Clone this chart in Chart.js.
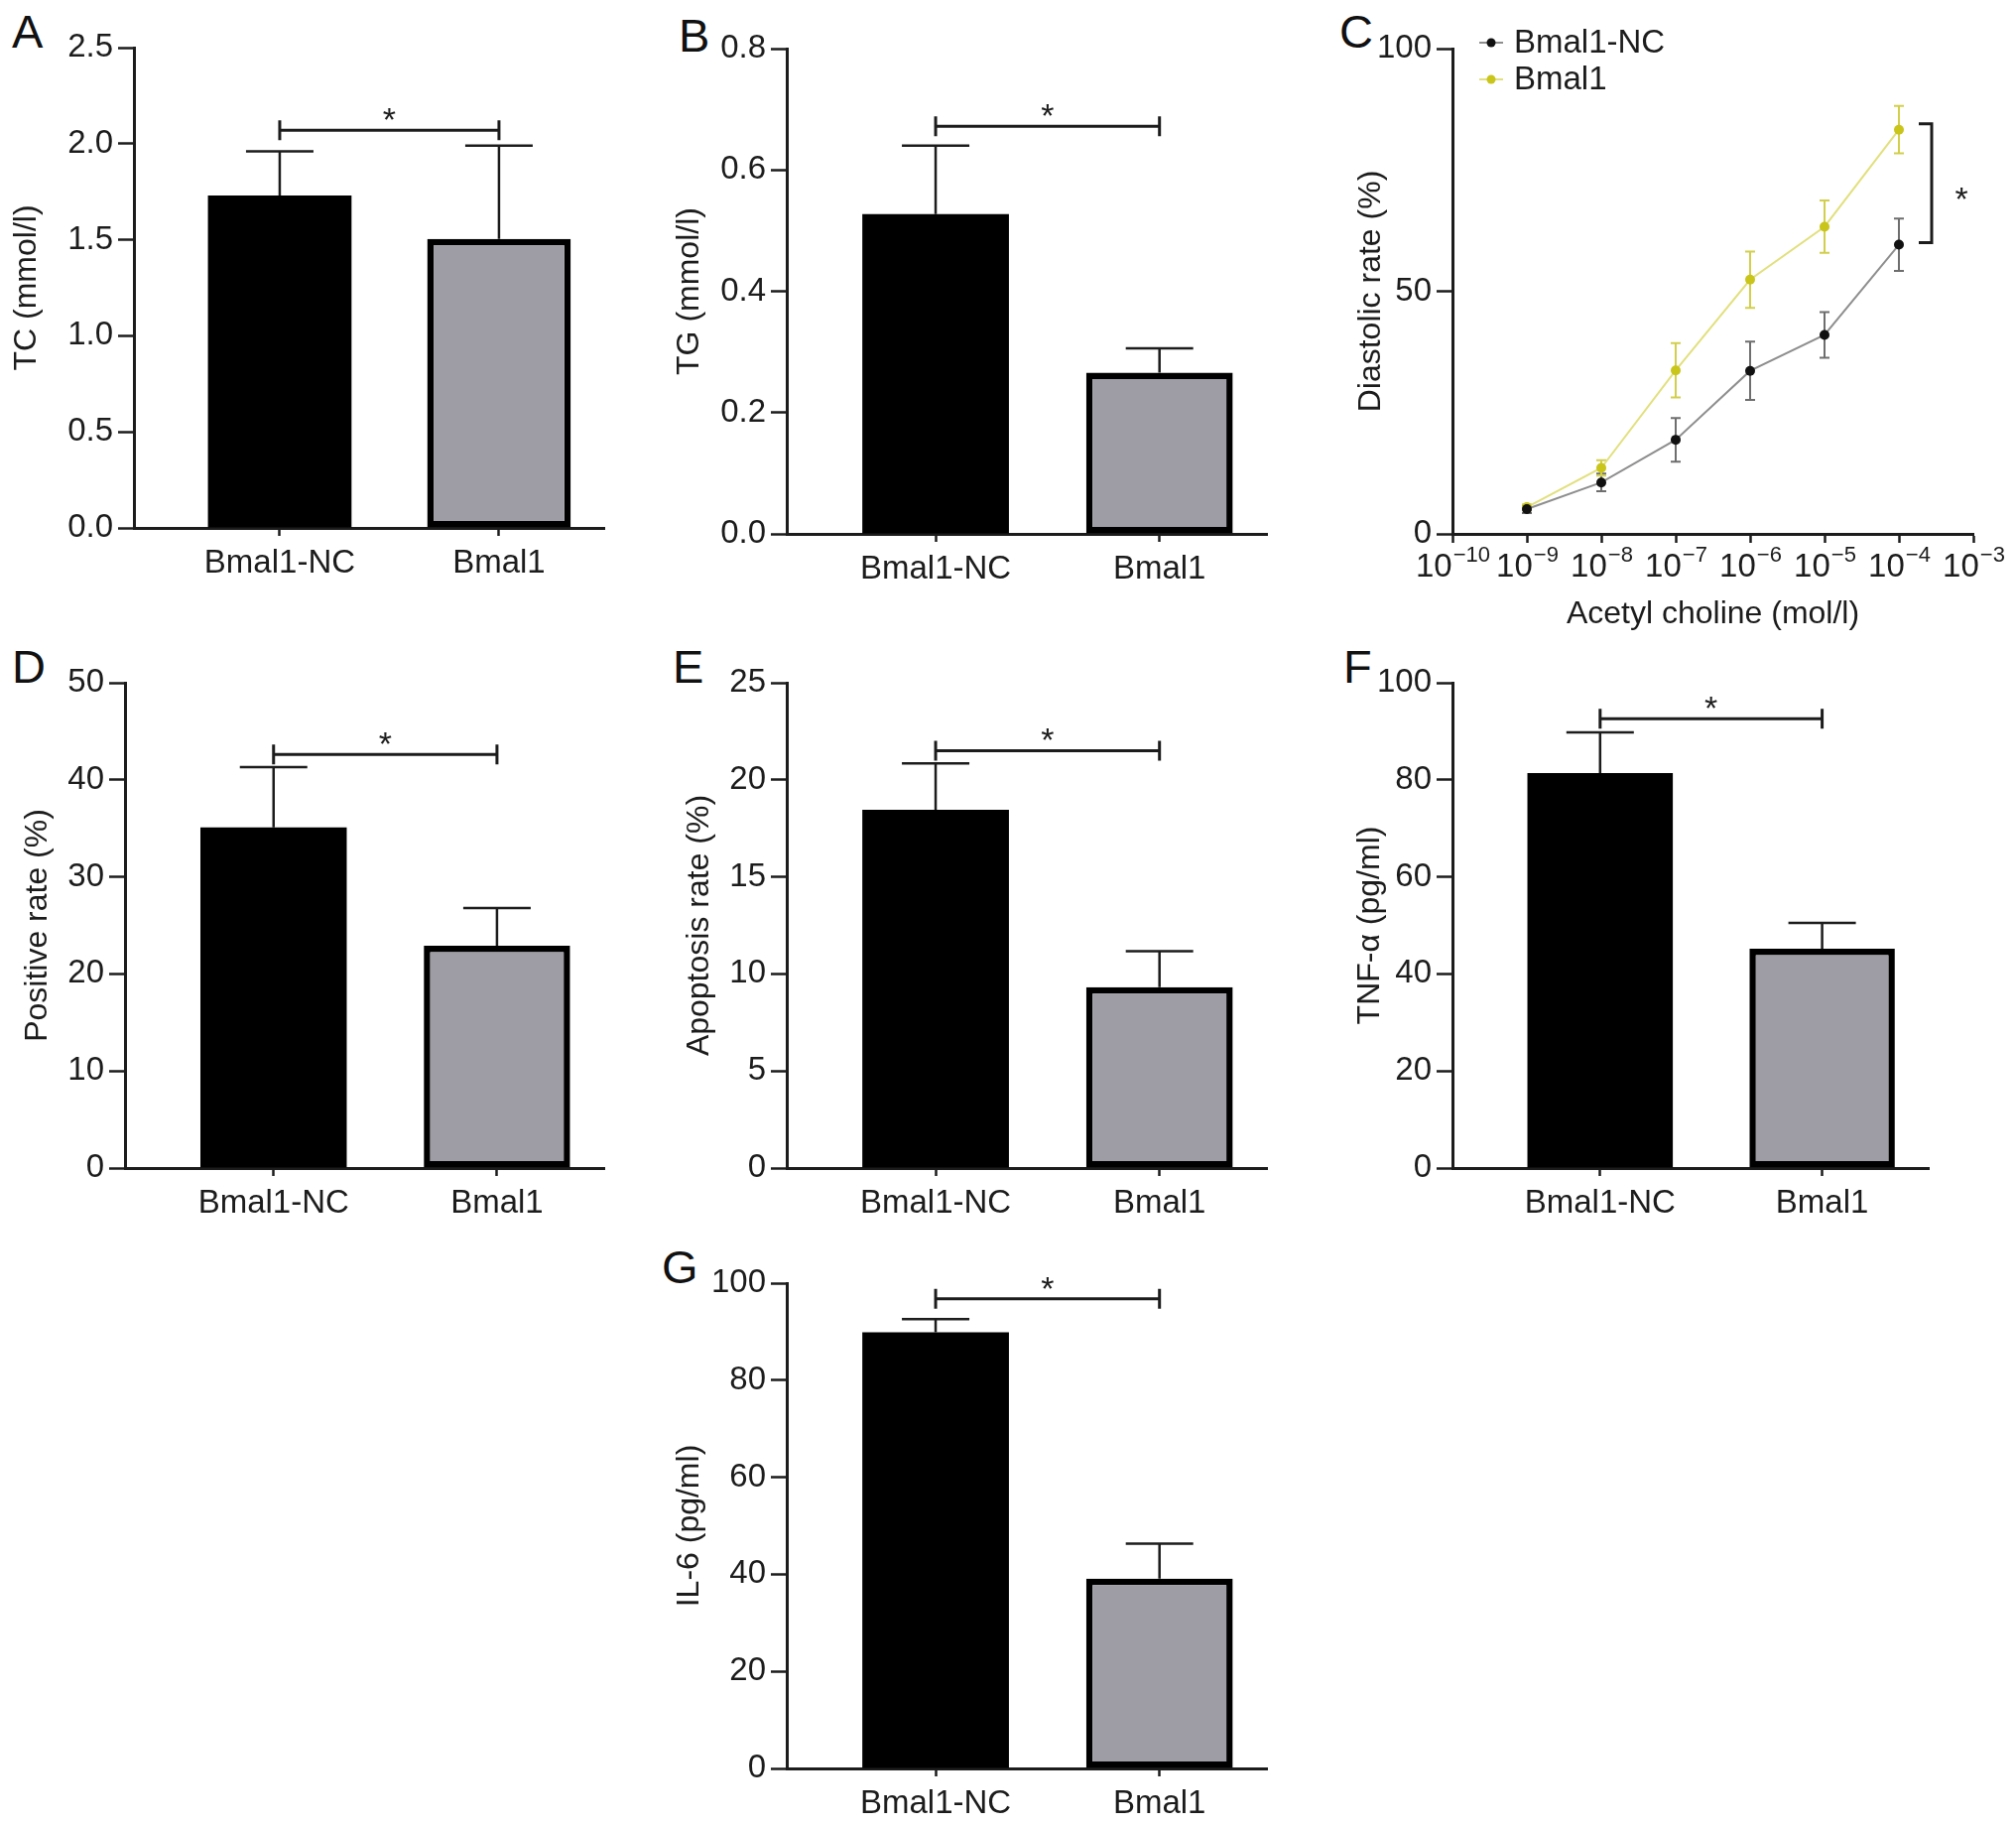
<!DOCTYPE html>
<html>
<head>
<meta charset="utf-8">
<script src="https://cdn.jsdelivr.net/npm/chart.js@4.4.1/dist/chart.umd.min.js"></script>
<style>
    html, body { margin: 0; padding: 0; background: #fff; }
    #fig { position: relative; width: 2032px; height: 1838px; overflow: hidden; font-family: "Liberation Sans", Arial, sans-serif; }
    #fig canvas { position: absolute; }
    .tag { position: absolute; font-size: 47px; line-height: 1; color: #111; }
</style>
</head>
<body>
<div id="fig">
    <div class="tag" style="left:12px;top:8px">A</div>
    <div class="tag" style="left:684px;top:12px">B</div>
    <div class="tag" style="left:1350px;top:8px">C</div>
    <div class="tag" style="left:12px;top:648px">D</div>
    <div class="tag" style="left:678px;top:648px">E</div>
    <div class="tag" style="left:1354px;top:648px">F</div>
    <div class="tag" style="left:667px;top:1253px">G</div>
    <canvas id="chartA"></canvas>
    <canvas id="chartB"></canvas>
    <canvas id="chartC"></canvas>
    <canvas id="chartD"></canvas>
    <canvas id="chartE"></canvas>
    <canvas id="chartF"></canvas>
    <canvas id="chartG"></canvas>
</div>
<script>
// ---- data ----
const groups = ['Bmal1-NC', 'Bmal1'];

const tcMean = [1.73, 1.505];
const tcErr = [0.23, 0.485];
const tgMean = [0.527, 0.266];
const tgErr = [0.113, 0.040];
const posMean = [35.1, 22.9];
const posErr = [6.2, 3.9];
const apoMean = [18.46, 9.32];
const apoErr = [2.38, 1.85];
const tnfMean = [81.4, 45.2];
const tnfErr = [8.4, 5.3];
const il6Mean = [89.9, 39.1];
const il6Err = [2.7, 7.2];

// level of the significance bar in each panel
const sigLevel = { A: 2.07, B: 0.672, D: 42.6, E: 21.5, F: 92.6, G: 96.8 };

// panel C: acetyl choline dose response
const achExp = [-9, -8, -7, -6, -5, -4];
const achAxisExp = [-10, -9, -8, -7, -6, -5, -4, -3];
const ncRate = [5.1, 10.6, 19.4, 33.6, 41.0, 59.6];
const ncRateErr = [0.8, 1.8, 4.5, 6.0, 4.7, 5.4];
const bmRate = [5.5, 13.6, 33.7, 52.4, 63.3, 83.3];
const bmRateErr = [0.6, 1.6, 5.6, 5.8, 5.4, 4.9];

// ---- look ----
const FONT = '"Liberation Sans", Arial, sans-serif';
const FS = 33;
const TITLE_FS = 32;
const INK = '#1c1c1c';
const BAR_GREY = '#9e9da5';
const PAD_TOP = 26;
const X_HEIGHT = 84;

function axisGrid(len) {
    return {
        display: true,
        drawOnChartArea: false,
        drawTicks: true,
        tickLength: len,
        tickWidth: 2.5,
        tickColor: INK,
        offset: false
    };
}

function placeCanvas(id, axisX, top, bottom, right, titleX, xHeight, padRight) {
    const leftW = axisX - titleX + 20;
    const canvas = document.getElementById(id);
    canvas.width = leftW + (right - axisX) + padRight;
    canvas.height = PAD_TOP + (bottom - top) + xHeight;
    canvas.style.left = (axisX - leftW) + 'px';
    canvas.style.top = (top - PAD_TOP) + 'px';
    return { canvas, leftW };
}

const barMarks = {
    id: 'barMarks',
    afterDatasetsDraw(chart, args, opts) {
        const ctx = chart.ctx;
        const x = chart.scales.x;
        const y = chart.scales.y;
        ctx.save();
        ctx.strokeStyle = INK;
        ctx.lineWidth = 2.5;
        opts.mean.forEach((m, i) => {
            const px = x.getPixelForValue(i);
            const yBar = y.getPixelForValue(m);
            const yTop = y.getPixelForValue(m + opts.err[i]);
            ctx.beginPath();
            ctx.moveTo(px, yBar);
            ctx.lineTo(px, yTop);
            ctx.moveTo(px - 34, yTop);
            ctx.lineTo(px + 34, yTop);
            ctx.stroke();
        });
        // significance bracket
        const ys = y.getPixelForValue(opts.sig);
        const x0 = x.getPixelForValue(0);
        const x1 = x.getPixelForValue(1);
        ctx.lineWidth = 3;
        ctx.beginPath();
        ctx.moveTo(x0, ys);
        ctx.lineTo(x1, ys);
        ctx.moveTo(x0, ys - 10);
        ctx.lineTo(x0, ys + 10);
        ctx.moveTo(x1, ys - 10);
        ctx.lineTo(x1, ys + 10);
        ctx.stroke();
        ctx.fillStyle = INK;
        ctx.font = '34px ' + FONT;
        ctx.textAlign = 'center';
        ctx.textBaseline = 'alphabetic';
        ctx.fillText('*', (x0 + x1) / 2, ys + 1);
        ctx.restore();
    }
};

function barPanel(id, mean, err, sig, yMax, yStep, decimals, yTitle, box) {
    const placed = placeCanvas(id, box[0], box[1], box[2], box[3], box[4], X_HEIGHT, 24);
    return new Chart(placed.canvas.getContext('2d'), {
        type: 'bar',
        data: {
            datasets: [{
                data: mean.map((v, i) => ({ x: i, y: v })),
                backgroundColor: ['#000000', BAR_GREY],
                borderColor: ['#000000', '#000000'],
                borderWidth: [0, 6.5],
                borderSkipped: false,
                barPercentage: 0.655,
                categoryPercentage: 1
            }]
        },
        options: {
            responsive: false,
            animation: false,
            devicePixelRatio: 1,
            layout: { padding: { top: PAD_TOP, right: 24, left: 0, bottom: 0 } },
            plugins: {
                legend: { display: false },
                tooltip: { enabled: false },
                barMarks: { mean: mean, err: err, sig: sig }
            },
            scales: {
                x: {
                    type: 'linear',
                    min: -0.665,
                    max: 1.48,
                    offset: false,
                    afterBuildTicks: (scale) => { scale.ticks = [{ value: 0 }, { value: 1 }]; },
                    afterFit: (scale) => { scale.height = X_HEIGHT; },
                    grid: axisGrid(8),
                    border: { display: true, color: INK, width: 3 },
                    ticks: {
                        autoSkip: false,
                        maxRotation: 0,
                        color: INK,
                        padding: 8,
                        font: { family: FONT, size: FS },
                        callback: (v) => groups[v] || ''
                    }
                },
                y: {
                    min: 0,
                    max: yMax,
                    afterFit: (scale) => { scale.width = placed.leftW; },
                    grid: axisGrid(16),
                    border: { display: true, color: INK, width: 3 },
                    ticks: {
                        stepSize: yStep,
                        color: INK,
                        padding: 5,
                        font: { family: FONT, size: FS },
                        callback: (v) => v.toFixed(decimals)
                    },
                    title: {
                        display: true,
                        text: yTitle,
                        color: INK,
                        padding: 0,
                        font: { family: FONT, size: TITLE_FS }
                    }
                }
            }
        },
        plugins: [barMarks]
    });
}

// panel boxes: y-axis x, top, zero line, x-axis end, y-title centre x
barPanel('chartA', tcMean, tcErr, sigLevel.A, 2.5, 0.5, 1, 'TC (mmol/l)', [135, 48, 532, 609, 28]);
barPanel('chartB', tgMean, tgErr, sigLevel.B, 0.8, 0.2, 1, 'TG (mmol/l)', [793, 49, 538, 1277, 696]);
barPanel('chartD', posMean, posErr, sigLevel.D, 50, 10, 0, 'Positive rate (%)', [126, 688, 1177, 609, 39]);
barPanel('chartE', apoMean, apoErr, sigLevel.E, 25, 5, 0, 'Apoptosis rate (%)', [793, 688, 1177, 1277, 706]);
barPanel('chartF', tnfMean, tnfErr, sigLevel.F, 100, 20, 0, 'TNF-\u03b1 (pg/ml)', [1464, 688, 1177, 1944, 1382]);
barPanel('chartG', il6Mean, il6Err, sigLevel.G, 100, 20, 0, 'IL-6 (pg/ml)', [793, 1293, 1782, 1277, 696]);

// ---- panel C ----
const seriesC = [
    { label: 'Bmal1-NC', mean: ncRate, err: ncRateErr, line: '#8e8e8e', dot: '#111111', bar: '#6e6e6e' },
    { label: 'Bmal1', mean: bmRate, err: bmRateErr, line: '#e2e07e', dot: '#c9c51b', bar: '#d2cf4c' }
];

const doseMarks = {
    id: 'doseMarks',
    beforeDatasetsDraw(chart) {
        const ctx = chart.ctx;
        const x = chart.scales.x;
        const y = chart.scales.y;
        ctx.save();
        ctx.lineWidth = 2;
        seriesC.forEach((s) => {
            ctx.strokeStyle = s.bar;
            achExp.forEach((e, i) => {
                const px = x.getPixelForValue(Math.pow(10, e));
                const hi = y.getPixelForValue(s.mean[i] + s.err[i]);
                const lo = y.getPixelForValue(s.mean[i] - s.err[i]);
                ctx.beginPath();
                ctx.moveTo(px, lo);
                ctx.lineTo(px, hi);
                ctx.moveTo(px - 5, lo);
                ctx.lineTo(px + 5, lo);
                ctx.moveTo(px - 5, hi);
                ctx.lineTo(px + 5, hi);
                ctx.stroke();
            });
        });
        ctx.restore();
    },
    afterDraw(chart) {
        const ctx = chart.ctx;
        const x = chart.scales.x;
        const y = chart.scales.y;
        const area = chart.chartArea;
        ctx.save();
        ctx.fillStyle = INK;
        // tick labels 10^n
        achAxisExp.forEach((e) => {
            const px = x.getPixelForValue(Math.pow(10, e));
            const base = '10';
            const sup = '\u2212' + Math.abs(e);
            ctx.font = FS + 'px ' + FONT;
            const w1 = ctx.measureText(base).width;
            ctx.font = '22px ' + FONT;
            const w2 = ctx.measureText(sup).width;
            const start = px - (w1 + w2) / 2;
            ctx.textAlign = 'left';
            ctx.textBaseline = 'alphabetic';
            ctx.font = FS + 'px ' + FONT;
            ctx.fillText(base, start, area.bottom + 43);
            ctx.font = '22px ' + FONT;
            ctx.fillText(sup, start + w1 + 1, area.bottom + 28);
        });
        // legend
        seriesC.forEach((s, i) => {
            const cy = area.top - 6 + i * 37;
            const cx = area.left + 39;
            ctx.strokeStyle = s.line;
            ctx.lineWidth = 2;
            ctx.beginPath();
            ctx.moveTo(cx - 12, cy);
            ctx.lineTo(cx + 12, cy);
            ctx.stroke();
            ctx.fillStyle = s.dot;
            ctx.beginPath();
            ctx.arc(cx, cy, 4.5, 0, Math.PI * 2);
            ctx.fill();
            ctx.fillStyle = INK;
            ctx.font = FS + 'px ' + FONT;
            ctx.textAlign = 'left';
            ctx.textBaseline = 'middle';
            ctx.fillText(s.label, cx + 23, cy + 1);
        });
        // significance bracket between the two curves at the top dose
        const last = achExp.length - 1;
        const bx = x.getPixelForValue(Math.pow(10, achExp[last])) + 33;
        const yHi = y.getPixelForValue(bmRate[last]) - 6;
        const yLo = y.getPixelForValue(ncRate[last]) - 2;
        ctx.strokeStyle = INK;
        ctx.lineWidth = 3;
        ctx.beginPath();
        ctx.moveTo(bx - 13, yHi);
        ctx.lineTo(bx, yHi);
        ctx.lineTo(bx, yLo);
        ctx.lineTo(bx - 13, yLo);
        ctx.stroke();
        ctx.fillStyle = INK;
        ctx.font = '34px ' + FONT;
        ctx.textAlign = 'center';
        ctx.textBaseline = 'alphabetic';
        ctx.fillText('*', bx + 30, (yHi + yLo) / 2 + 27);
        ctx.restore();
    }
};

(function () {
    const placed = placeCanvas('chartC', 1464, 49, 538, 1989, 1383, 100, 60);
    new Chart(placed.canvas.getContext('2d'), {
        type: 'line',
        data: {
            datasets: seriesC.map((s) => ({
                label: s.label,
                data: achExp.map((e, i) => ({ x: Math.pow(10, e), y: s.mean[i] })),
                borderColor: s.line,
                borderWidth: 2,
                pointRadius: 5,
                pointBackgroundColor: s.dot,
                pointBorderColor: s.dot,
                pointBorderWidth: 0,
                tension: 0
            }))
        },
        options: {
            responsive: false,
            animation: false,
            devicePixelRatio: 1,
            layout: { padding: { top: PAD_TOP, right: 60, left: 0, bottom: 0 } },
            plugins: {
                legend: { display: false },
                tooltip: { enabled: false }
            },
            scales: {
                x: {
                    type: 'logarithmic',
                    min: 1e-10,
                    max: 1e-3,
                    afterBuildTicks: (scale) => {
                        scale.ticks = achAxisExp.map((e) => ({ value: Math.pow(10, e) }));
                    },
                    afterFit: (scale) => { scale.height = 100; },
                    grid: axisGrid(9),
                    border: { display: true, color: INK, width: 3 },
                    ticks: {
                        autoSkip: false,
                        maxRotation: 0,
                        font: { family: FONT, size: FS },
                        callback: () => ''
                    },
                    title: {
                        display: true,
                        text: 'Acetyl choline (mol/l)',
                        color: INK,
                        padding: 0,
                        font: { family: FONT, size: TITLE_FS }
                    }
                },
                y: {
                    min: 0,
                    max: 100,
                    afterFit: (scale) => { scale.width = placed.leftW; },
                    grid: axisGrid(16),
                    border: { display: true, color: INK, width: 3 },
                    ticks: {
                        stepSize: 50,
                        color: INK,
                        padding: 5,
                        font: { family: FONT, size: FS }
                    },
                    title: {
                        display: true,
                        text: 'Diastolic rate (%)',
                        color: INK,
                        padding: 0,
                        font: { family: FONT, size: TITLE_FS }
                    }
                }
            }
        },
        plugins: [doseMarks]
    });
})();
</script>
</body>
</html>
